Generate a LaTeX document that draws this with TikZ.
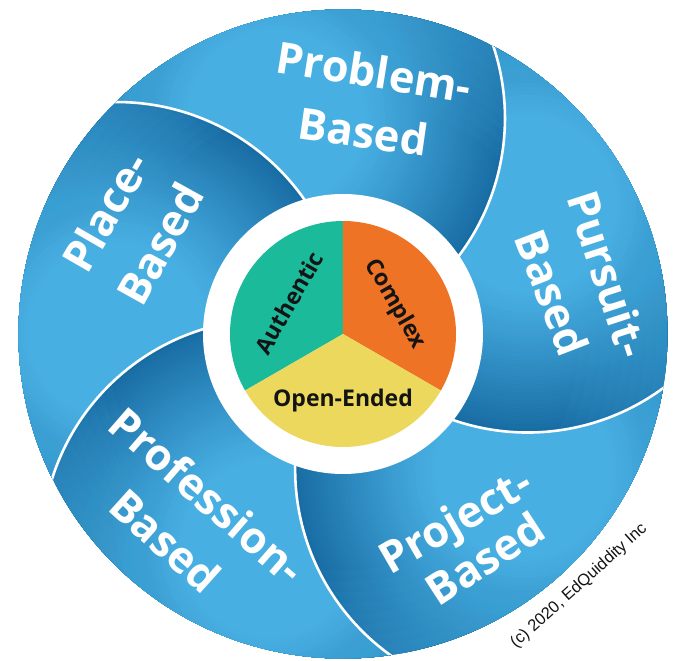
\documentclass[tikz,border=0pt]{standalone}
\usepackage{fontspec}
\setmainfont{Open Sans}
\newfontfamily\copyfont{Liberation Sans}
\definecolor{blight}{RGB}{72,175,226}
\definecolor{bdark}{RGB}{24,108,164}
\definecolor{pgreen}{RGB}{27,186,154}
\definecolor{porange}{RGB}{239,115,36}
\definecolor{pyellow}{RGB}{235,216,92}
\definecolor{ctext}{RGB}{20,20,20}
\tikzset{
  outerlbl/.style={text=white, font=\bfseries\fontsize{43.5}{48}\selectfont, inner sep=0pt, text height=31.5pt, text depth=0pt},
  innerlbl/.style={text=ctext, font=\bfseries\fontsize{23}{26}\selectfont, inner sep=0pt, text height=16.5pt, text depth=0pt},
  sepline/.style={white, line width=2.6pt},
}
\begin{document}
\begin{tikzpicture}[x=1pt,y=1pt]
\useasboundingbox (-343,-327) rectangle (330,334);
\fill[white] (-343,-327) rectangle (330,334);
\def\Rout{324.5}
\def\Rarc{228.8}
\def\Dc{226}
% petals
\foreach \k in {0,...,4}{
  \pgfmathsetmacro\th{34+72*\k}
  \pgfmathsetmacro\ca{\th+73.2}
  \pgfmathsetmacro\cb{\th+72+73.2}
  \begin{scope}
    \clip (0,0) circle[radius=\Rout];
    \clip (\ca:\Dc) circle[radius=\Rarc];
    % clockwise square + counterclockwise circle = outside of the circle
    \clip (-400,-400) -- (-400,400) -- (400,400) -- (400,-400) -- cycle (\cb:\Dc) circle[radius=\Rarc];
    \fill[blight] (-400,-400) rectangle (400,400);
    \foreach \i in {0,...,35}{
      \pgfmathtruncatemacro\p{100*(1-\i/35)^1.1}
      \fill[bdark!\p!blight] (\ca:\Dc) circle[radius=\Rarc-4*\i];
    }
  \end{scope}
}
% lighter rim
\begin{scope}
  \clip (0,0) circle[radius=\Rout];
  \foreach \i in {1,...,8}{
    \fill[blight, opacity=0.06, even odd rule] (0,0) circle[radius=\Rout+5] (0,0) circle[radius=\Rout-\i*11];
  }
\end{scope}
% separators
\begin{scope}
  \clip (0,0) circle[radius=\Rout];
  \foreach \k in {0,...,4}{
    \pgfmathsetmacro\th{34+72*\k}
    \pgfmathsetmacro\ca{\th+73.2}
    \draw[sepline] (\ca:\Dc) ++(\th-75:\Rarc) arc[start angle=\th-75, end angle=\th-12, radius=\Rarc];
  }
\end{scope}
% hub
\node[circle, fill=white, minimum size=280pt, inner sep=0pt] (hub) at (0,0) {};
\fill[pgreen] (0,0) -- (90:113) arc[start angle=90, end angle=210, radius=113] -- cycle;
\fill[porange] (0,0) -- (-30:113) arc[start angle=-30, end angle=90, radius=113] -- cycle;
\fill[pyellow] (0,0) -- (210:113) arc[start angle=210, end angle=330, radius=113] -- cycle;
% labels
\node[outerlbl, rotate=-9] (prob1) at (31,262) {Problem-};
\node[outerlbl, rotate=-8] (prob2) at (20,202) {Based};
\node[outerlbl, rotate=60] (place1) at (-237,122) {Place-};
\node[outerlbl, rotate=61] (place2) at (-183,90) {Based};
\node[outerlbl, rotate=-72] (purs1) at (265,60) {Pursuit-};
\node[outerlbl, rotate=-69] (purs2) at (209,41) {Based};
\node[outerlbl, rotate=30] (proj1) at (112,-186) {Project-};
\node[outerlbl, rotate=33] (proj2) at (142,-225) {Based};
\node[outerlbl, rotate=-41] (prof1) at (-136,-162) {Profession-};
\node[outerlbl, rotate=-42] (prof2) at (-178,-207) {Based};
\node[innerlbl, rotate=60] (auth) at (150:62) {Authentic};
\node[innerlbl, rotate=-60] (cplx) at (30:62) {Complex};
\node[innerlbl] (open) at (0,-64) {Open-Ended};
\node[font=\copyfont\fontsize{16.5}{18}\selectfont, text=ctext, rotate=42, inner sep=0pt] (copy) at (236,-252) {(c) 2020, EdQuiddity Inc};
\end{tikzpicture}
\end{document}
